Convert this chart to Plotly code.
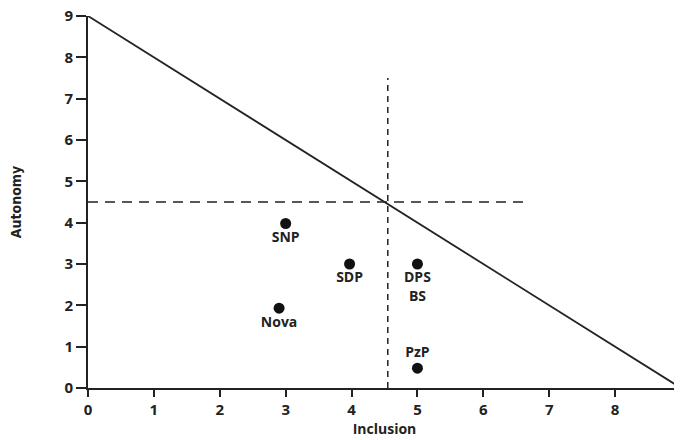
import plotly.graph_objects as go

# Data
parties = ["SNP", "SDP", "DPS<br>BS", "Nova", "PzP"]
inclusion = [3.0, 3.97, 5.0, 2.9, 5.0]
autonomy = [3.98, 3.0, 3.0, 1.93, 0.48]
label_pos = ["bottom center", "bottom center", "bottom center", "bottom center", "top center"]

diag_x = [0, 9]
diag_y = [9, 0]
vline_x = [4.55, 4.55]
vline_y = [0, 7.5]
hline_x = [0, 6.7]
hline_y = [4.5, 4.5]
ticks = list(range(10))

FONT = "Open Sans"

fig = go.Figure()
fig.add_trace(go.Scatter(x=diag_x, y=diag_y, mode="lines",
                         line=dict(color="#222", width=1.8), cliponaxis=False, hoverinfo="skip"))
fig.add_trace(go.Scatter(x=vline_x, y=vline_y, mode="lines",
                         line=dict(color="#222", width=1.5, dash="6px,5px"), cliponaxis=False))
fig.add_trace(go.Scatter(x=hline_x, y=hline_y, mode="lines",
                         line=dict(color="#222", width=1.5, dash="10px,7px"), cliponaxis=False))
fig.add_trace(go.Scatter(x=inclusion, y=autonomy, mode="markers+text",
                         text=["<b>%s</b>" % p for p in parties], textposition=label_pos,
                         textfont=dict(family=FONT, size=14, color="#222"),
                         marker=dict(color="#111", size=11), cliponaxis=False))

fig.update_layout(
    width=674, height=432, showlegend=False,
    plot_bgcolor="white", paper_bgcolor="white",
    margin=dict(l=80, r=1, t=8, b=52),
    font=dict(family=FONT, size=15, color="#222"),
)
fig.update_xaxes(range=[0, 9], tickvals=ticks, ticktext=["<b>%d</b>" % t for t in ticks],
                 automargin=False, ticklabeloverflow="allow",
                 showgrid=False, zeroline=False, showline=True, linecolor="#222", linewidth=2,
                 ticks="outside", ticklen=7, tickwidth=1.5, tickcolor="#222",
                 title=dict(text="<b>Inclusion</b>", font=dict(family=FONT, size=14), standoff=3))
fig.update_yaxes(range=[0, 9], tickvals=ticks, ticktext=["<b>%d</b>" % t for t in ticks],
                 automargin=False, ticklabeloverflow="allow",
                 showgrid=False, zeroline=False, showline=True, linecolor="#222", linewidth=2,
                 ticks="outside", ticklen=10, tickwidth=1.5, tickcolor="#222",
                 title=dict(text="<b>Autonomy</b>", font=dict(family="DejaVu Sans Condensed", size=14), standoff=48))

fig.write_html("out.html")
